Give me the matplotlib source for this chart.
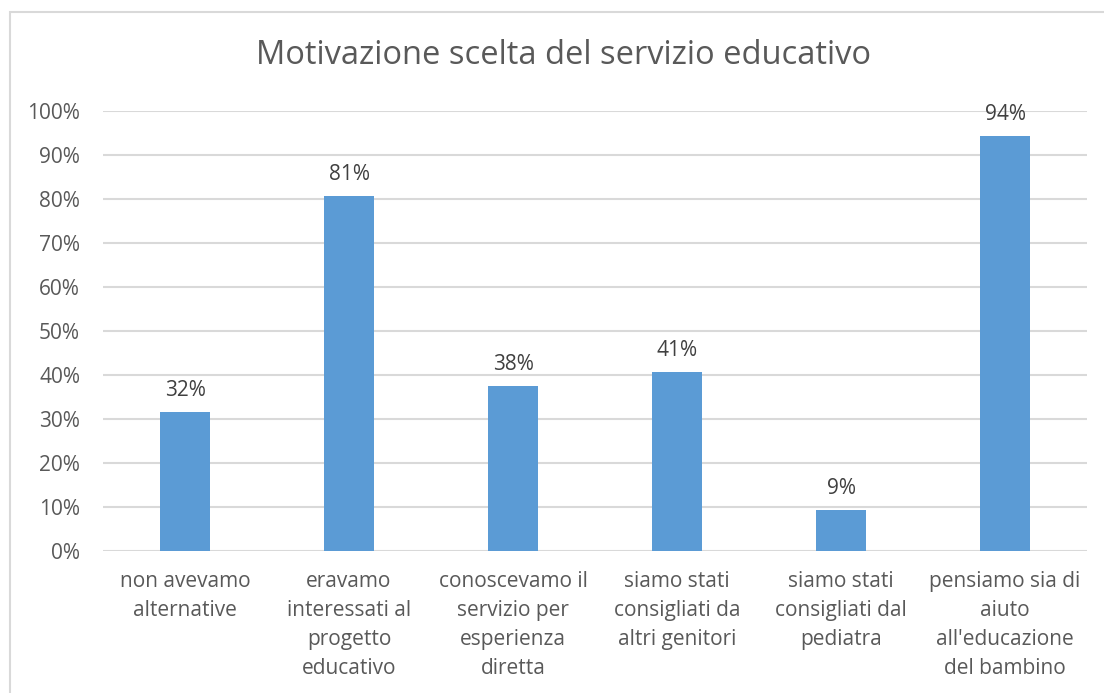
import matplotlib.pyplot as plt
from matplotlib.patches import Rectangle
import numpy as np

categories = [
    'non avevamo\nalternative',
    'eravamo\ninteressati al\nprogetto\neducativo',
    'conoscevamo il\nservizio per\nesperienza\ndiretta',
    'siamo stati\nconsigliati da\naltri genitori',
    'siamo stati\nconsigliati dal\npediatra',
    "pensiamo sia di\naiuto\nall'educazione\ndel bambino",
]
values = [31.6, 80.7, 37.5, 40.7, 9.4, 94.3]
value_labels = ['32%', '81%', '38%', '41%', '9%', '94%']
yticks = list(range(0, 101, 10))
ytick_labels = [f'{t}%' for t in yticks]
title = 'Motivazione scelta del servizio educativo'

txt = '#595959'
grid = '#d9d9d9'
bar_color = '#5b9bd5'

plt.rcParams['font.family'] = ['Open Sans', 'DejaVu Sans']

W, H = 1104, 693
fig = plt.figure(figsize=(W / 100, H / 100), dpi=100)
fig.patches.append(Rectangle((10 / W, -0.01), 1.1, 1 - 12 / H + 0.01,
                             transform=fig.transFigure, fill=False,
                             edgecolor=grid, linewidth=1.5))

ax = fig.add_axes([103 / W, 1 - 551 / H, (1087 - 103) / W, (551 - 111) / H])
x = np.arange(len(categories))
ax.bar(x, values, width=0.31, color=bar_color, zorder=3)
ax.set_xlim(-0.5, len(categories) - 0.5)
ax.set_ylim(0, 100)
ax.set_yticks(yticks)
ax.set_yticklabels(ytick_labels)
ax.grid(axis='y', color=grid, linewidth=1.5, zorder=0)
for s in ax.spines.values():
    s.set_visible(False)
ax.tick_params(axis='both', length=0, colors=txt, labelsize=15)
ax.tick_params(axis='y', pad=16.5)
ax.tick_params(axis='x', pad=14.5)
ax.set_xticks(x)
ax.set_xticklabels(categories, linespacing=1.5)

for xi, v, lab in zip(x, values, value_labels):
    ax.annotate(lab, (xi, v), xytext=(0, 8), textcoords='offset points',
                ha='center', va='bottom', color='#404040', fontsize=15)

fig.text(564 / W, 1 - 56 / H, title, ha='center', va='center',
         color=txt, fontsize=23.5)

fig.savefig('out.png', dpi=100)
